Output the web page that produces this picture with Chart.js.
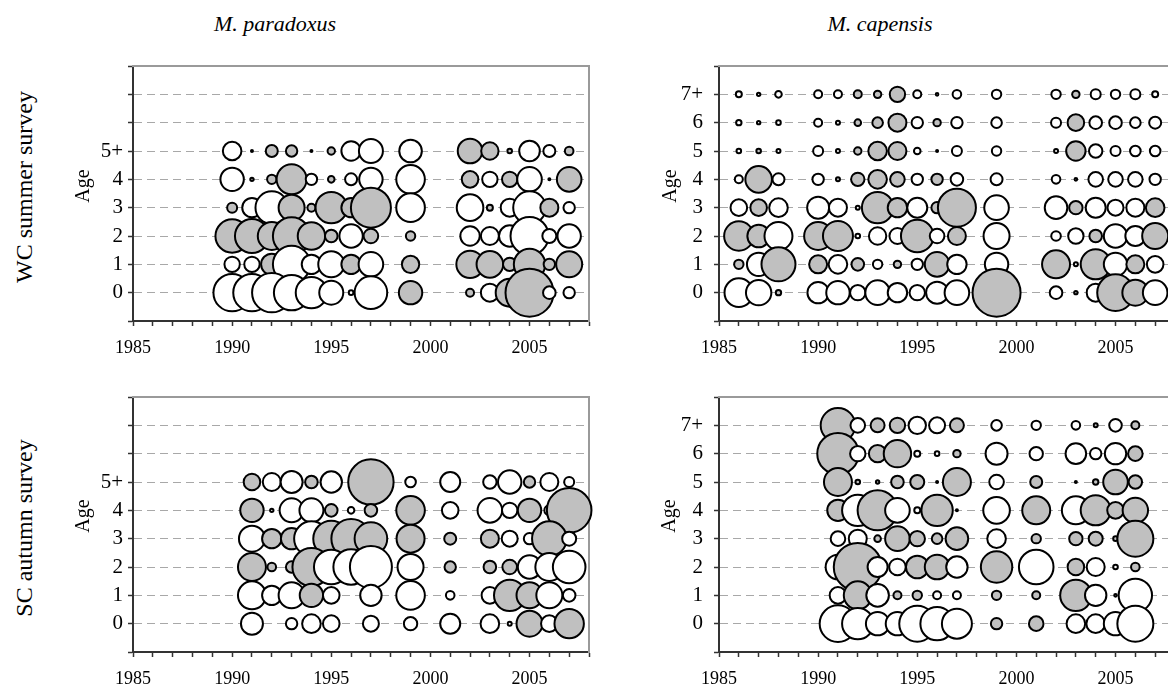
<!DOCTYPE html>
<html lang="en">
<head>
<meta charset="UTF-8">
<title>Age residual bubbles - M. paradoxus / M. capensis</title>
<script src="https://cdn.jsdelivr.net/npm/chart.js"></script>
<style>
  html, body { margin: 0; padding: 0; background: #fff; width: 1168px; height: 689px; overflow: hidden; }
  body { position: relative; font-family: "Liberation Serif", "Times New Roman", serif; color: #000; }
  canvas { position: absolute; }
  .lbl { position: absolute; white-space: nowrap; line-height: 1; transform: translate(-50%, -50%); }
  .rot { transform: translate(-50%, -50%) rotate(-90deg); }
</style>
</head>
<body>

<canvas id="parWC" width="536" height="335" style="left:73px;top:36px"></canvas>
<canvas id="capWC" width="536" height="335" style="left:659px;top:36px"></canvas>
<canvas id="parSC" width="536" height="335" style="left:73px;top:367px"></canvas>
<canvas id="capSC" width="536" height="335" style="left:659px;top:367px"></canvas>

<div class="lbl" style="left:275px;top:24px;font-size:22px;font-style:italic">M. paradoxus</div>
<div class="lbl" style="left:880px;top:24px;font-size:22px;font-style:italic">M. capensis</div>
<div class="lbl rot" style="left:24px;top:187px;font-size:24px">WC summer survey</div>
<div class="lbl rot" style="left:24px;top:528px;font-size:24px">SC autumn survey</div>
<div class="lbl rot" style="left:82px;top:186px;font-size:20px">Age</div>
<div class="lbl rot" style="left:669px;top:186px;font-size:20px">Age</div>
<div class="lbl rot" style="left:82px;top:516px;font-size:20px">Age</div>
<div class="lbl rot" style="left:668px;top:516px;font-size:20px">Age</div>

<script>
    // tick labels
    const xTickLabels = ['1985', '1990', '1995', '2000', '2005'];
    const ageLabelsPar = ['0', '1', '2', '3', '4', '5+'];
    const ageLabelsCap = ['0', '1', '2', '3', '4', '5', '6', '7+'];

    // residuals (rows = age 0, 1, 2, ...), positive = grey, negative = white
    const yearsParWC = [1990, 1991, 1992, 1993, 1994, 1995, 1996, 1997, 1999, 2002, 2003, 2004, 2005, 2006, 2007];
    const residParWC = [
        [-1.97, -1.97, -2.07, -1.87, -1.67, -1.30, -0.33, -1.73, 1.27, 0.50, -1.00, 1.50, 2.50, -0.73, -0.67],
        [-0.87, -0.87, 1.17, -1.97, -1.07, -1.40, 1.07, -1.33, 0.97, 1.47, 1.43, 0.77, 1.67, 0.67, 1.40],
        [1.77, 1.80, 1.50, 1.97, 1.47, 0.73, -1.27, 0.83, 0.57, -1.07, -1.00, -1.17, -2.00, -0.80, -1.27],
        [0.60, -1.07, -1.73, 1.40, 0.50, 1.67, 1.07, 2.10, -1.53, -1.43, 0.40, -1.00, -1.73, 1.00, -0.67],
        [-1.27, 0.27, 0.57, 1.60, -0.67, 0.43, -0.70, -1.27, -1.53, 0.93, -0.87, 0.87, -1.33, 0.20, 1.33],
        [-1.03, 0.10, 0.70, 0.67, 0.10, 0.47, -1.07, -1.30, -1.23, 1.33, 0.97, 0.33, -1.13, -0.70, 0.53]
    ];

    const yearsCapWC = [1986, 1987, 1988, 1990, 1991, 1992, 1993, 1994, 1995, 1996, 1997, 1999, 2002, 2003, 2004, 2005, 2006, 2007];
    const residCapWC = [
        [-1.53, -1.37, 0.37, -1.17, -1.27, -0.87, -1.33, -1.07, -0.87, -1.20, -1.33, 2.50, -0.73, 0.27, -1.00, 1.93, 1.40, -1.33],
        [0.57, -1.27, 1.80, 1.00, -1.03, 0.73, -0.57, 0.47, -0.67, 1.33, -1.07, -1.27, 1.50, -0.30, 1.60, -1.27, 1.00, -0.93],
        [1.57, 1.23, -1.50, 1.50, 1.60, -0.33, -0.97, -0.90, 1.73, -0.83, 1.00, -1.40, -0.58, -0.87, 0.73, -1.27, -1.10, 1.40],
        [-0.93, 0.93, -1.03, -1.20, -1.00, -0.30, 1.67, 1.07, -1.10, 0.67, 2.00, -1.33, -1.23, 0.77, -1.10, -0.90, -1.00, 1.03],
        [-0.50, 1.43, -0.70, -0.67, 0.30, 0.77, 1.03, 0.83, -0.67, 0.67, -0.73, -0.70, -0.53, 0.23, -0.83, -0.83, -0.83, -0.67],
        [-0.33, 0.33, -0.30, -0.60, -0.30, 0.47, 1.03, 1.00, -0.43, 0.13, -0.60, -0.57, -0.30, 1.07, -0.77, -0.60, -0.63, -0.63],
        [-0.37, -0.27, -0.33, -0.50, -0.30, 0.43, 0.63, 1.00, -0.67, 0.47, -0.67, -0.63, -0.60, 0.93, -0.73, -0.73, -0.63, -0.70],
        [-0.40, -0.27, -0.43, -0.50, -0.50, 0.50, 0.47, 0.87, -0.50, -0.23, -0.53, -0.57, -0.57, 0.47, -0.60, -0.57, -0.60, -0.40]
    ];

    const yearsParSC = [1991, 1992, 1993, 1994, 1995, 1996, 1997, 1999, 2001, 2003, 2004, 2005, 2006, 2007];
    const residParSC = [
        [-1.20, null, -0.67, -1.03, -0.93, null, -0.90, -0.77, -1.10, -1.03, -0.30, 1.40, -0.93, 1.57],
        [-1.50, -1.07, -1.40, 1.27, -0.93, null, -1.17, -1.53, -0.53, -0.93, 1.67, 1.40, -1.40, -0.73],
        [1.50, 0.53, 0.67, 2.00, -1.83, -1.87, -2.20, -1.40, 0.67, 0.73, 0.83, -1.27, -1.50, -1.73],
        [-1.40, 1.07, 1.17, -1.83, 1.90, 2.07, 1.73, 1.50, 0.70, 1.00, -0.90, -0.67, 1.83, -0.80],
        [1.27, -0.27, -1.30, -1.30, 0.73, -0.43, 0.73, 1.53, -0.93, -1.33, -0.87, 1.27, -0.60, 2.33],
        [0.93, -1.00, -1.20, 0.73, -1.17, null, 2.37, -0.63, -1.10, -0.77, -1.27, 0.67, -1.00, -0.60]
    ];

    const yearsCapSC = [1991, 1992, 1993, 1994, 1995, 1996, 1997, 1999, 2001, 2003, 2004, 2005, 2006];
    const residCapSC = [
        [-1.93, -1.67, -1.27, -1.27, -1.90, -1.77, -1.60, 0.67, 0.83, -1.03, -1.03, -1.27, -1.90],
        [-0.93, 1.50, -1.23, 0.50, 0.57, -0.50, -0.50, 0.57, 0.50, 1.67, -1.17, 0.23, -1.77],
        [-1.33, 2.50, -1.10, -0.93, 1.23, 1.33, -1.17, 1.67, -1.83, 0.93, -1.00, -0.33, 0.53],
        [-0.83, -1.00, 0.43, 1.33, 0.87, 0.63, 1.23, -1.03, 0.57, 0.77, 0.80, 0.33, 1.90],
        [1.17, -1.67, 2.10, -1.33, -0.40, 1.67, 0.17, -1.43, 1.50, -1.50, 1.60, 0.93, 1.37],
        [1.50, 0.33, 0.27, 0.73, 0.80, 0.13, 1.50, -0.83, 0.70, 0.17, 0.37, 1.33, 0.77],
        [2.17, -0.87, 0.97, 1.47, -0.40, -0.33, 0.47, -1.20, -0.77, -1.13, -0.67, -1.17, 0.83],
        [1.83, -0.83, 0.80, 0.87, -0.97, -0.90, 0.80, -0.63, -0.57, -0.53, 0.30, -0.73, 0.50]
    ];

    const FONT = '"Liberation Serif", "Times New Roman", serif';
    const R_UNIT = 10;        // bubble radius in px per unit of residual
    const GREY = '#c0c0c0';

    // one dataset per age; dataset 0 (age 0) is drawn last, on top
    function bubbleSets(years, resid) {
        return resid.map((row, age) => ({
            label: 'Age ' + age,
            data: row.map((v, i) => v === null ? null : {
                x: years[i], y: age, r: Math.max(Math.abs(v) * R_UNIT - 1, 1), v: v
            }).filter(p => p !== null),
            backgroundColor: c => (c.raw && c.raw.v > 0) ? GREY : '#ffffff',
            borderColor: '#000',
            borderWidth: 2,
            clip: false
        }));
    }

    function makePanel(id, years, resid, ageLabels, labelPad) {
        return new Chart(document.getElementById(id).getContext('2d'), {
            type: 'bubble',
            data: { datasets: bubbleSets(years, resid) },
            options: {
                responsive: false,
                animation: false,
                events: [],
                layout: { autoPadding: false, padding: { left: 0, top: 30, right: 20, bottom: 0 } },
                plugins: { legend: { display: false }, tooltip: { enabled: false } },
                scales: {
                    x: {
                        type: 'linear', position: 'bottom', min: 1985, max: 2008,
                        ticks: {
                            stepSize: 1, autoSkip: false, maxRotation: 0, padding: 11, color: '#000',
                            font: { family: FONT, size: 18 },
                            callback: v => xTickLabels.includes(String(v)) ? String(v) : ''
                        },
                        grid: { drawOnChartArea: false, tickLength: 5, tickColor: '#333', tickWidth: 1.5 },
                        border: { color: '#333', width: 2 },
                        afterFit: s => { s.height = 50; }
                    },
                    y: {
                        type: 'linear', position: 'left', min: -1, max: 8,
                        ticks: {
                            stepSize: 1, autoSkip: false, padding: labelPad, color: '#000',
                            font: { family: FONT, size: 21 },
                            callback: v => ageLabels[v] !== undefined ? ageLabels[v] : ''
                        },
                        grid: {
                            color: c => (c.tick && c.tick.value >= 0 && c.tick.value <= 7) ? '#a8a8a8' : 'rgba(0,0,0,0)',
                            lineWidth: 1, tickLength: 5, tickColor: '#333', tickWidth: 1.5
                        },
                        border: { color: '#333', width: 2, dash: [8, 5] },
                        afterFit: s => { s.width = 60; }
                    },
                    // grey frame on top and right
                    xTop: {
                        axis: 'x', type: 'linear', position: 'top', min: 1985, max: 2008,
                        ticks: { display: false }, grid: { display: false, drawTicks: false },
                        border: { color: '#9a9a9a', width: 2 },
                        afterFit: s => { s.height = 0; }
                    },
                    yRight: {
                        axis: 'y', type: 'linear', position: 'right', min: -1, max: 8,
                        ticks: { display: false }, grid: { display: false, drawTicks: false },
                        border: { color: '#9a9a9a', width: 2 },
                        afterFit: s => { s.width = 0; }
                    }
                }
            }
        });
    }

    makePanel('parWC', yearsParWC, residParWC, ageLabelsPar, 5);
    makePanel('capWC', yearsCapWC, residCapWC, ageLabelsCap, 11);
    makePanel('parSC', yearsParSC, residParSC, ageLabelsPar, 5);
    makePanel('capSC', yearsCapSC, residCapSC, ageLabelsCap, 11);
</script>
</body>
</html>
